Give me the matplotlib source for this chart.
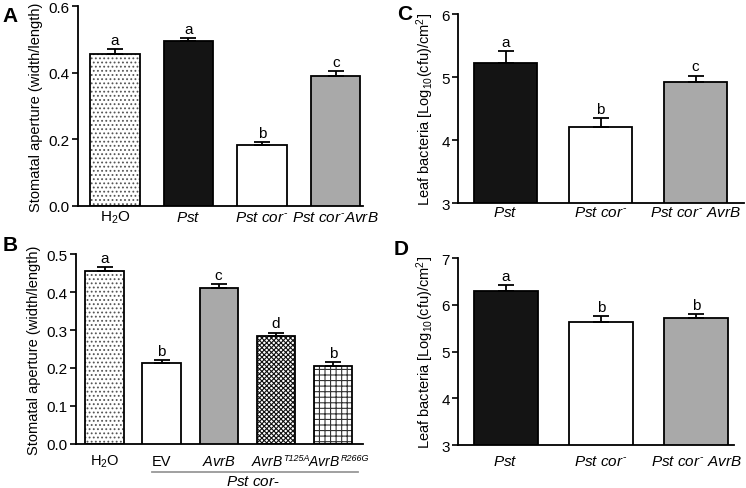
import numpy as np
import matplotlib
matplotlib.use('Agg')
import matplotlib.pyplot as plt
from matplotlib.transforms import offset_copy

plt.rcParams['font.family'] = ['Liberation Sans', 'DejaVu Sans']
plt.rcParams['mathtext.fontset'] = 'custom'
plt.rcParams['mathtext.rm'] = 'Liberation Sans'
plt.rcParams['mathtext.it'] = 'Liberation Sans:italic'
plt.rcParams['mathtext.default'] = 'regular'
plt.rcParams['hatch.linewidth'] = 0.8

# panel A
a_labels = ['H$_2$O', '$\\it{Pst}$', '$\\it{Pst\\ cor}^{\\text{-}}$',
            '$\\it{Pst\\ cor}^{\\text{-}}\\it{AvrB}$']
a_vals = [0.456, 0.496, 0.184, 0.391]
a_err = [0.015, 0.009, 0.008, 0.014]
a_sig = ['a', 'a', 'b', 'c']

# panel B
b_labels = ['H$_2$O', 'EV', '$\\it{AvrB}$', '$\\it{AvrB}$', '$\\it{AvrB}$']
b_sups = ['', '', '', 'T125A', 'R266G']
b_vals = [0.455, 0.212, 0.410, 0.285, 0.206]
b_err = [0.011, 0.008, 0.011, 0.008, 0.009]
b_sig = ['a', 'b', 'c', 'd', 'b']

# panel C
c_labels = ['$\\it{Pst}$', '$\\it{Pst\\ cor}^{\\text{-}}$',
            '$\\it{Pst\\ cor}^{\\text{-}}\\ \\it{AvrB}$']
c_vals = [5.23, 4.20, 4.92]
c_err = [0.18, 0.15, 0.10]
c_sig = ['a', 'b', 'c']

# panel D
d_labels = c_labels
d_vals = [6.30, 5.64, 5.71]
d_err = [0.12, 0.11, 0.09]
d_sig = ['a', 'b', 'b']

BLACK = '#141414'
GREY = '#a9a9a9'
BAR_W = 0.67
hatch_col = {'....': '#555555', 'xxxxxxx': '#111111', '+++': '#333333'}


def draw(ax, vals, err, sig, labels, styles, ylim, yticks, fmt, xmax, base, lab_off,
         lab_fs=11, sups=None):
    x = np.arange(len(vals))
    for i, (fc, hatch) in enumerate(styles):
        h = vals[i] - base
        if hatch:
            ax.bar(x[i], h, BAR_W, bottom=base, color='white', hatch=hatch,
                   edgecolor=hatch_col[hatch], linewidth=0, zorder=2)
            ax.bar(x[i], h, BAR_W, bottom=base, fill=False,
                   edgecolor='black', linewidth=1.3, zorder=3)
        else:
            ax.bar(x[i], h, BAR_W, bottom=base, color=fc,
                   edgecolor='black', linewidth=1.3, zorder=3)
    ax.errorbar(x, vals, yerr=[np.zeros(len(err)), err], fmt='none',
                ecolor='black', elinewidth=1.3, capsize=6, capthick=1.3, zorder=4)
    span = ylim[1] - ylim[0]
    for i in range(len(vals)):
        ax.text(x[i], vals[i] + err[i] + span * 0.012, sig[i], ha='center',
                va='bottom', fontsize=11)
    ax.set_ylim(*ylim)
    ax.set_xlim(-0.5, xmax)
    ax.set_yticks(yticks)
    ax.set_yticklabels([fmt.format(t) for t in yticks], fontsize=11)
    ax.set_xticks([])
    fg = ax.figure
    xt = ax.get_xaxis_transform()
    rend = fg.canvas.get_renderer()
    for i, lab in enumerate(labels):
        if sups and sups[i]:
            # base text starts a little left of the bar's left edge, superscript follows
            tr = offset_copy(xt, fig=fg, x=-4.3, y=-lab_off, units='points')
            t = ax.text(x[i] - BAR_W / 2, 0, lab, transform=tr, ha='left',
                        va='baseline', fontsize=lab_fs - 0.5)
            w = t.get_window_extent(rend).width * 72 / fg.dpi
            trs = offset_copy(xt, fig=fg, x=-4.3 + w + 0.3, y=-lab_off + 3.6, units='points')
            ax.text(x[i] - BAR_W / 2, 0, sups[i], transform=trs, ha='left', va='baseline',
                    fontsize=6.5, style='italic')
        else:
            tr = offset_copy(xt, fig=fg, y=-lab_off, units='points')
            ax.text(x[i], 0, lab, transform=tr, ha='center', va='baseline', fontsize=lab_fs)
    ax.tick_params(axis='y', direction='out', length=4, width=1.2, pad=2)
    for s in ['top', 'right']:
        ax.spines[s].set_visible(False)
    for s in ['left', 'bottom']:
        ax.spines[s].set_linewidth(1.3)


fig = plt.figure(figsize=(7.46, 4.89), dpi=100)

axA = fig.add_axes([0.1046, 0.5767, 0.382, 0.408])
draw(axA, a_vals, a_err, a_sig, a_labels,
     [('white', '....'), (BLACK, None), ('white', None), (GREY, None)],
     (0, 0.6), [0.0, 0.2, 0.4, 0.6], '{:.1f}', 3.37, 0, 10.8)
axA.set_ylabel('Stomatal aperture (width/length)', fontsize=10.5, labelpad=4)

axB = fig.add_axes([0.1019, 0.0900, 0.3847, 0.3885])
draw(axB, b_vals, b_err, b_sig, b_labels,
     [('white', '....'), ('white', None), (GREY, None), ('white', 'xxxxxxx'), ('white', '+++')],
     (0, 0.5), [0.0, 0.1, 0.2, 0.3, 0.4, 0.5], '{:.1f}', 4.53, 0, 15,
     lab_fs=10.5, sups=b_sups)
axB.set_ylabel('Stomatal aperture (width/length)', fontsize=10.5, labelpad=4)
trB = axB.get_xaxis_transform()
axB.plot([0.84, 4.45], [0, 0], color='#999999', lw=1.3, clip_on=False,
         transform=offset_copy(trB, fig=fig, y=-20.2, units='points'))
axB.text(2.6, 0, '$\\it{Pst\\ cor}$-', ha='center', va='baseline', fontsize=11,
         transform=offset_copy(trB, fig=fig, y=-29.8, units='points'))

axC = fig.add_axes([0.614, 0.5828, 0.3834, 0.3865])
draw(axC, c_vals, c_err, c_sig, c_labels,
     [(BLACK, None), ('white', None), (GREY, None)],
     (3, 6), [3, 4, 5, 6], '{:d}', 2.51, 3, 9.1)
axC.set_ylabel('Leaf bacteria [Log$_{10}$(cfu)/cm$^2$]', fontsize=10.5, labelpad=4)

axD = fig.add_axes([0.614, 0.0879, 0.37, 0.3824])
draw(axD, d_vals, d_err, d_sig, d_labels,
     [(BLACK, None), ('white', None), (GREY, None)],
     (3, 7), [3, 4, 5, 6, 7], '{:d}', 2.4, 3, 14.2)
axD.set_ylabel('Leaf bacteria [Log$_{10}$(cfu)/cm$^2$]', fontsize=10.5, labelpad=4)

for lab, x, y in [('A', 0.004, 0.985), ('B', 0.004, 0.518), ('C', 0.532, 0.99), ('D', 0.528, 0.51)]:
    fig.text(x, y, lab, fontsize=15, fontweight='bold', va='top', ha='left')

fig.savefig('out.png', dpi=100)
